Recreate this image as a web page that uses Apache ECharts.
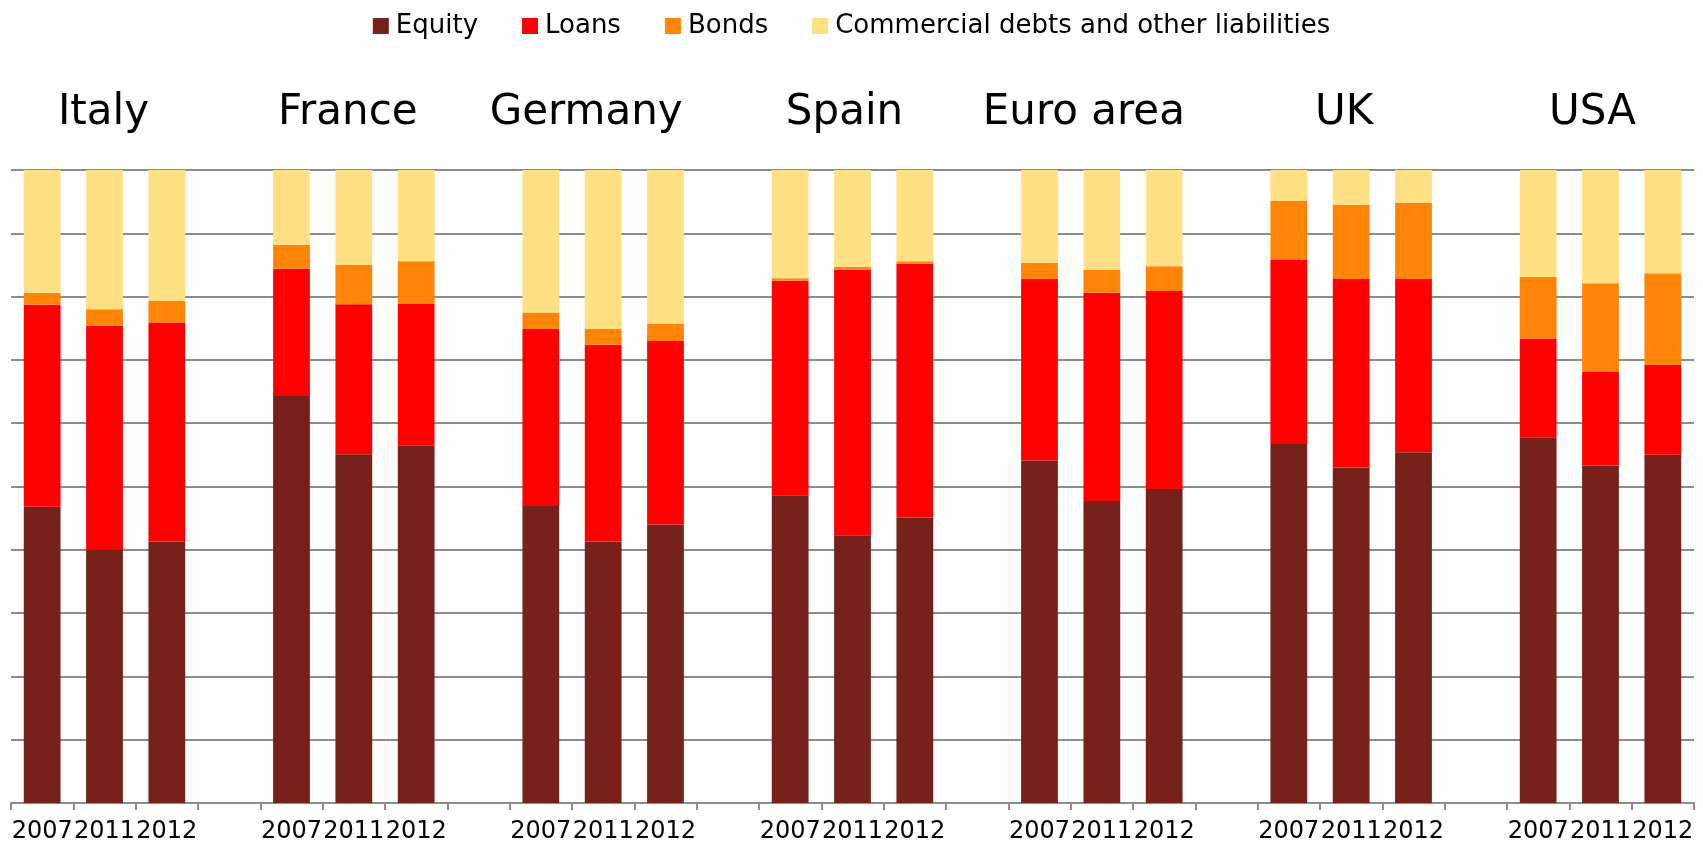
<!DOCTYPE html>
<html>
<head>
<meta charset="utf-8">
<script src="https://cdn.jsdelivr.net/npm/echarts@6/dist/echarts.min.js"></script>
<style>
html,body{margin:0;padding:0;background:#fff;}
#chart{width:1703px;height:848px;}
</style>
</head>
<body>
<div id="chart"></div>
<script>
const countries = ['Italy', 'France', 'Germany', 'Spain', 'Euro area', 'UK', 'USA'];
const years = ['2007', '2011', '2012'];
const seriesNames = ['Equity', 'Loans', 'Bonds', 'Commercial debts and other liabilities'];
// values per country in order 2007, 2011, 2012 (% of total liabilities)
const equity = [46.8, 40.1, 41.3, 64.3, 55.1, 56.5, 46.9, 41.3, 44.0, 48.6, 42.3, 45.1, 54.1, 47.7, 49.6, 56.7, 53.0, 55.4, 57.8, 53.3, 55.0];
const loans = [31.9, 35.3, 34.6, 20.1, 23.7, 22.4, 28.0, 31.1, 29.0, 33.9, 42.0, 40.1, 28.7, 32.9, 31.3, 29.1, 29.8, 27.4, 15.6, 14.8, 14.2];
const bonds = [1.9, 2.6, 3.4, 3.8, 6.2, 6.7, 2.6, 2.5, 2.7, 0.4, 0.4, 0.4, 2.5, 3.6, 3.9, 9.3, 11.7, 12.0, 9.7, 14.0, 14.5];
const commercial = [19.4, 22.0, 20.7, 11.8, 15.0, 14.4, 22.5, 25.1, 24.3, 17.1, 15.3, 14.4, 14.7, 15.8, 15.2, 4.9, 5.5, 5.2, 16.9, 17.9, 16.3];
const colors = ['#76211a', '#ff0000', '#ff8407', '#ffe085'];
// horizontal nudge (px, leftwards) of each country heading, as placed in the original
const headingShift = [1, 6, 17, 8, 18, 7, 8];

// build category axes with a blank slot between countries
const bottomCats = [];
const topCats = [];
countries.forEach((c, ci) => {
  years.forEach((y, yi) => {
    bottomCats.push(y);
    topCats.push(yi === 1 ? c : '');
  });
  if (ci < countries.length - 1) { bottomCats.push(' '); topCats.push(''); }
});
function spread(vals) {
  const out = [];
  countries.forEach((c, ci) => {
    years.forEach((y, yi) => out.push(vals[ci * years.length + yi]));
    if (ci < countries.length - 1) out.push('-');
  });
  return out;
}
const allVals = [equity, loans, bonds, commercial];

const FONT = 'DejaVu Sans';
const rich = {};
headingShift.forEach((s, i) => {
  rich['h' + i] = { fontSize: 42, fontFamily: FONT, color: '#000', padding: [0, 2 * s, 0, 0] };
});

const chart = echarts.init(document.getElementById('chart'));
chart.setOption({
  animation: false,
  backgroundColor: '#ffffff',
  color: colors,
  textStyle: { fontFamily: FONT },
  legend: {
    top: 8,
    left: 'center',
    itemWidth: 16,
    itemHeight: 16,
    itemGap: 44,
    icon: 'rect',
    textStyle: { fontSize: 26, color: '#000', fontFamily: FONT, padding: [0, 0, 0, 2] },
    data: seriesNames
  },
  grid: { left: 11, right: 9, top: 170, bottom: 45, containLabel: false },
  xAxis: [
    {
      type: 'category',
      data: bottomCats,
      position: 'bottom',
      axisLine: { lineStyle: { color: '#8c8c8c', width: 2 } },
      axisTick: { show: true, length: 7, interval: 0, lineStyle: { color: '#8c8c8c', width: 2 } },
      axisLabel: { interval: 0, fontSize: 24, color: '#000', margin: 17, fontFamily: FONT },
      splitLine: { show: false }
    },
    {
      type: 'category',
      data: topCats,
      position: 'top',
      axisLine: { show: false },
      axisTick: { show: false },
      axisLabel: {
        interval: 0, fontSize: 42, color: '#000', margin: 36, fontFamily: FONT,
        formatter: function (v) {
          const ci = countries.indexOf(v);
          return ci >= 0 ? '{h' + ci + '|' + v + '}' : '';
        },
        rich: rich
      },
      splitLine: { show: false }
    }
  ],
  yAxis: {
    type: 'value',
    min: 0,
    max: 100,
    interval: 10,
    axisLine: { show: false },
    axisTick: { show: false },
    axisLabel: { show: false },
    splitLine: { lineStyle: { color: '#8c8c8c', width: 2 } }
  },
  series: seriesNames.map((n, i) => ({
    name: n,
    type: 'bar',
    stack: 'total',
    xAxisIndex: 0,
    barCategoryGap: '41%',
    data: spread(allVals[i]),
    itemStyle: { color: colors[i] }
  }))
});
</script>
</body>
</html>
